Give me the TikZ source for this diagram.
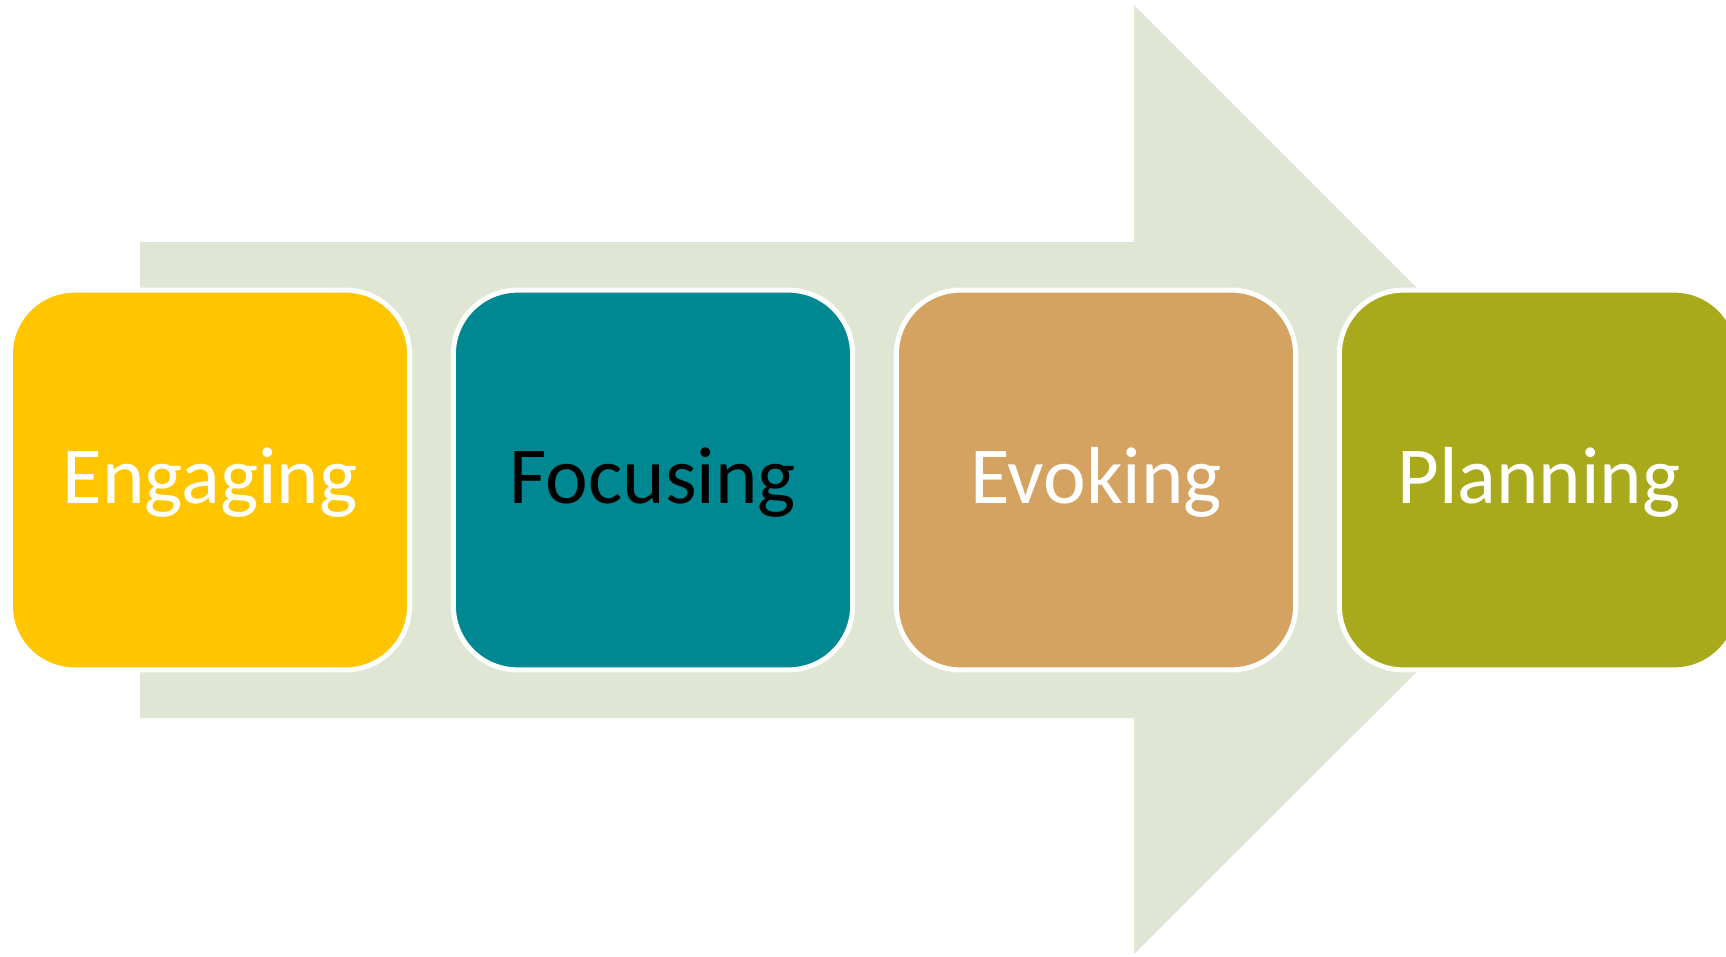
\documentclass[tikz,border=0pt]{standalone}
\usepackage{fontspec}
\setmainfont{Carlito}
\usetikzlibrary{calc}

\definecolor{arrowgreen}{RGB}{223,231,212}
\definecolor{engcol}{RGB}{255,198,0}
\definecolor{foccol}{RGB}{0,136,146}
\definecolor{evocol}{RGB}{213,163,97}
\definecolor{placol}{RGB}{168,170,27}

\begin{document}
\begin{tikzpicture}[x=0.01cm,y=-0.01cm,
  stage box/.style={rectangle,rounded corners=0.64cm,draw=white,line width=0.05cm,
    minimum width=3.99cm,minimum height=3.795cm,inner sep=0pt,
    font=\fontsize{23}{28}\selectfont,text height=0.53cm,text depth=0.07cm}]

\clip (0,0) rectangle (1726,956);

% big arrow behind the stages
\fill[arrowgreen] (140,242) -- (1134,242) -- (1134,5) -- (1609,480)
  -- (1134,954) -- (1134,718) -- (140,718) -- cycle;

\node[stage box,fill=engcol,text=white](Eng) at (210,480) {Engaging};
\node[stage box,fill=foccol,text=black](Foc) at (653,480) {Focusing};
\node[stage box,fill=evocol,text=white](Evo) at (1096,480) {Evoking};
\node[stage box,fill=placol,text=white](Pla) at (1539,480) {Planning};
\end{tikzpicture}
\end{document}
